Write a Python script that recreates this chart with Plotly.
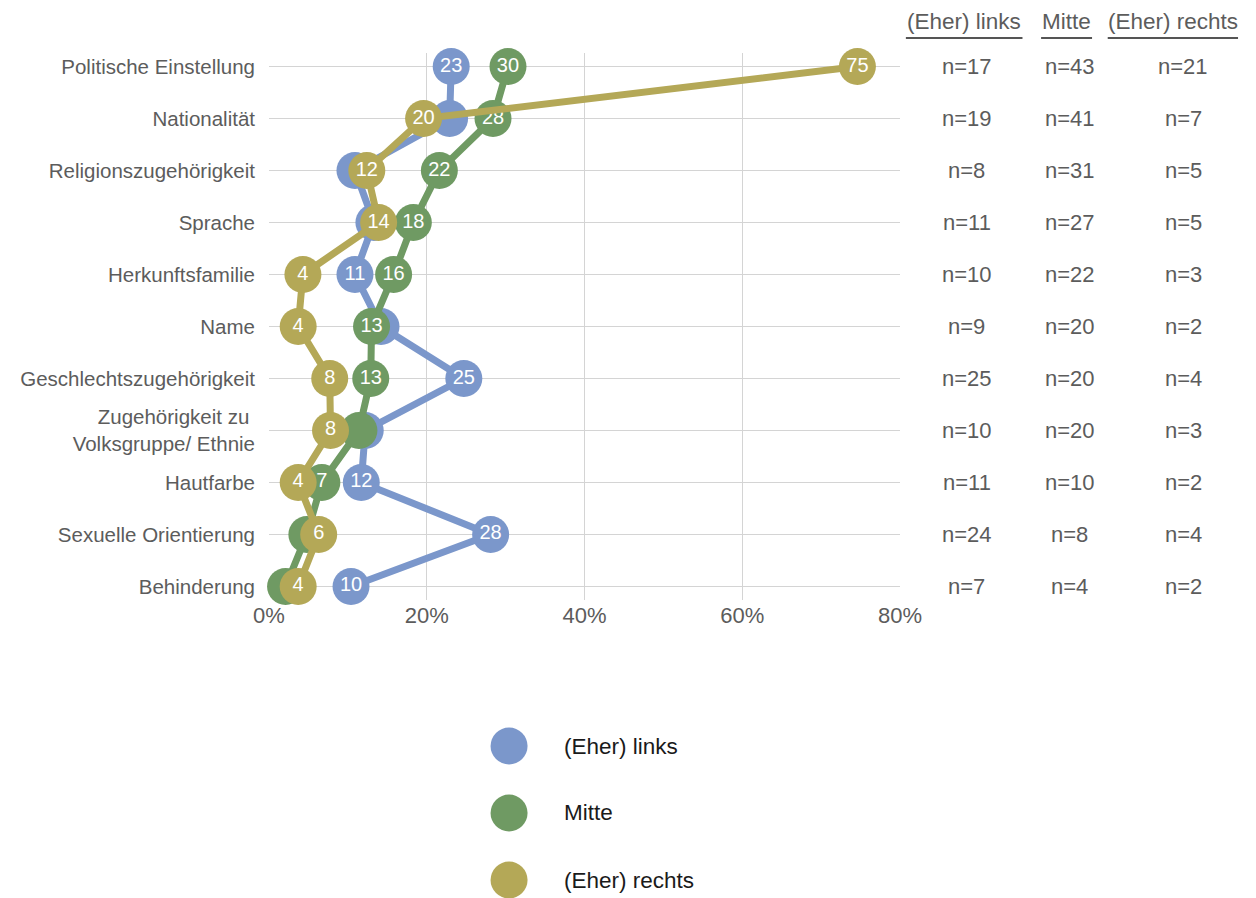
import plotly.graph_objects as go

categories = [
    "Politische Einstellung", "Nationalität", "Religionszugehörigkeit", "Sprache",
    "Herkunftsfamilie", "Name", "Geschlechtszugehörigkeit",
    "Zugehörigkeit zu <br>Volksgruppe/ Ethnie", "Hautfarbe",
    "Sexuelle Orientierung", "Behinderung",
]
series_names = ["(Eher) links", "Mitte", "(Eher) rechts"]
links_pct = [23.1, 22.9, 10.9, 13.3, 10.9, 14.2, 24.7, 12.2, 11.7, 28.1, 10.4]
mitte_pct = [30.3, 28.4, 21.6, 18.3, 15.8, 13.0, 12.9, 11.4, 6.7, 4.8, 2.1]
rechts_pct = [74.6, 19.6, 12.4, 13.9, 4.3, 3.7, 7.7, 7.8, 3.7, 6.3, 3.7]
# which value labels are visible in the reference (others hidden by overlap)
links_show = [1, 0, 0, 0, 1, 0, 1, 0, 1, 1, 1]
mitte_show = [1, 1, 1, 1, 1, 1, 1, 0, 1, 0, 0]
rechts_show = [1, 1, 1, 1, 1, 1, 1, 1, 1, 1, 1]
links_n = [17, 19, 8, 11, 10, 9, 25, 10, 11, 24, 7]
mitte_n = [43, 41, 31, 27, 22, 20, 20, 20, 10, 8, 4]
rechts_n = [21, 7, 5, 5, 3, 2, 4, 3, 2, 4, 2]
x_ticks = [0, 20, 40, 60, 80]
x_ticklabels = ["0%", "20%", "40%", "60%", "80%"]

colors = ["#7B97CB", "#6F9A63", "#B4A857"]
FONT = "Liberation Sans, Arial, Helvetica, sans-serif"
GRAY = "#5c5c5c"

OFF = 8  # page body margin in the browser
W, H = 1256 - OFF, 898 - OFF
PL, PR, PT, PB = 256 - OFF, 900 - OFF, 53 - OFF, 600 - OFF


def px_x(px):
    return (px - OFF - PL) / (PR - PL)


def px_y(py):
    return (PB - (py - OFF)) / (PB - PT)


fig = go.Figure()
for name, vals, show, col in zip(
    series_names,
    [links_pct, mitte_pct, rechts_pct],
    [links_show, mitte_show, rechts_show],
    colors,
):
    fig.add_trace(go.Scatter(
        x=vals, y=categories, name=name,
        mode="lines+markers+text",
        line=dict(color=col, width=7),
        marker=dict(color=col, size=37, line=dict(width=0)),
        text=[str(round(v)) if s else "" for v, s in zip(vals, show)],
        textposition="middle center",
        textfont=dict(color="white", size=20, family=FONT),
        cliponaxis=False,
        showlegend=False,
        hoverinfo="x+y+name",
    ))

annotations = []
shapes = []
# n columns
col_x = [968, 1073, 1189]
for cx, nvals in zip(col_x, [links_n, mitte_n, rechts_n]):
    for cat, n in zip(categories, nvals):
        annotations.append(dict(
            x=px_x(cx), xref="paper", y=cat, yref="y",
            text=f"n={n}", showarrow=False, xanchor="center", yanchor="middle",
            font=dict(size=22, color=GRAY, family=FONT),
        ))
# headers with underlines
head_x = [965.5, 1070, 1178.5]
under = [(906, 1025), (1044, 1096), (1112, 1245)]
for name, hx, (u0, u1) in zip(series_names, head_x, under):
    annotations.append(dict(
        x=px_x(hx), xref="paper", y=px_y(22), yref="paper",
        text=name, showarrow=False, xanchor="center", yanchor="middle",
        font=dict(size=22.5, color=GRAY, family=FONT),
    ))
    shapes.append(dict(
        type="line", xref="paper", yref="paper",
        x0=px_x(u0), x1=px_x(u1), y0=px_y(38), y1=px_y(38),
        line=dict(color="#555555", width=2),
    ))
# legend
leg_y = [746, 813, 880]
for name, col, ly in zip(series_names, colors, leg_y):
    shapes.append(dict(
        type="circle", xref="paper", yref="paper",
        xsizemode="pixel", ysizemode="pixel",
        xanchor=px_x(501), yanchor=px_y(ly),
        x0=-18.5, x1=18.5, y0=-18.5, y1=18.5,
        fillcolor=col, line=dict(width=0),
    ))
    annotations.append(dict(
        x=px_x(555), xref="paper", y=px_y(ly), yref="paper",
        text=name, showarrow=False, xanchor="left", yanchor="middle",
        font=dict(size=22.5, color="#1a1a1a", family=FONT),
    ))

fig.update_layout(
    width=W, height=H,
    margin=dict(l=PL, r=W - PR, t=PT, b=H - PB, pad=0),
    plot_bgcolor="white", paper_bgcolor="white",
    font=dict(family=FONT, color=GRAY),
    xaxis=dict(
        range=[0, 80], tickvals=x_ticks, ticktext=x_ticklabels,
        showgrid=True, gridcolor="#d4d4d4", gridwidth=1,
        zeroline=False, showline=False, ticks="",
        tickfont=dict(size=22, color=GRAY, family=FONT),
        fixedrange=True,
    ),
    yaxis=dict(
        type="category", categoryorder="array", categoryarray=categories,
        range=[10.26, -0.26],
        showgrid=True, gridcolor="#d4d4d4", gridwidth=1,
        zeroline=False, showline=False, ticks="",
        ticklabelstandoff=13,
        tickfont=dict(size=20.5, color=GRAY, family=FONT),
        fixedrange=True,
    ),
    annotations=annotations,
    shapes=shapes,
    showlegend=False,
)

fig.write_html("out.html")
